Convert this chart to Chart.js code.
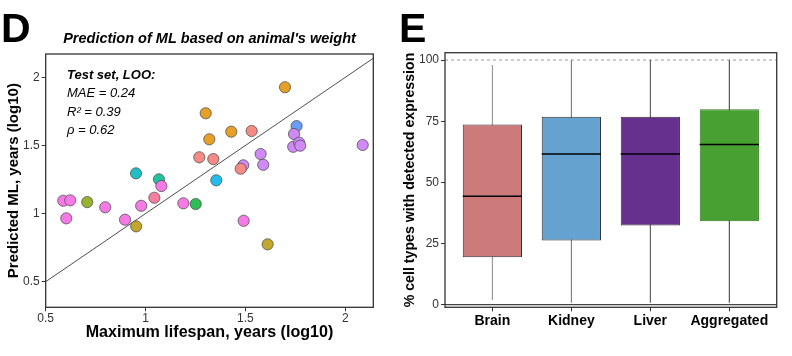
<!DOCTYPE html>
<html><head><meta charset="utf-8">
<script src="https://cdn.jsdelivr.net/npm/chart.js@4.4.0/dist/chart.umd.min.js"></script>
<style>
html,body{margin:0;padding:0;background:#fff;width:792px;height:356px;overflow:hidden;font-family:"Liberation Sans",Arial,sans-serif;}
.wrap{position:absolute;top:0;width:396px;height:356px;}
#w1{left:0}#w2{left:396px}
.lbl{position:absolute;font-weight:bold;font-size:41px;line-height:42px;color:#000;}
#ann{position:absolute;left:67px;top:66px;font-size:13px;line-height:18.3px;font-style:italic;color:#000;white-space:nowrap;}
</style></head>
<body>
<div class="wrap" id="w1"><canvas id="c1" width="396" height="356"></canvas></div>
<div class="wrap" id="w2"><canvas id="c2" width="396" height="356"></canvas></div>
<div class="lbl" style="left:1px;top:7px">D</div>
<div class="lbl" style="left:399px;top:7px">E</div>
<div id="ann"><b>Test set, LOO:</b><br>MAE = 0.24<br>R² = 0.39<br>ρ = 0.62</div>
<script>
// ---------- Panel D data ----------
const maxLifespan = [1.698,1.301,1.429,1.319,1.531,1.756,1.743,1.739,1.769,1.774,2.087,1.269,1.339,1.576,1.589,1.489,1.476,0.952,1.067,1.079,1.354,0.588,0.623,0.708,0.798,1.044,0.978,1.189,1.251,0.603,0.897,0.953,1.491,1.611];
const predictedML = [1.927,1.736,1.601,1.545,1.606,1.642,1.584,1.490,1.520,1.498,1.503,1.413,1.400,1.437,1.358,1.354,1.329,1.295,1.251,1.202,1.244,1.094,1.097,1.084,1.046,1.116,1.057,1.075,1.070,0.965,0.955,0.906,0.947,0.774];
const animalGroup = ['A','A','A','A','B','C','D','D','D','D','D','B','B','D','D','D','B','E','F','G','H','G','G','I','G','J','G','G','K','G','G','L','G','L'];
const xTicksD = [0.5,1,1.5,2];
const yTicksD = [0.5,1,1.5,2];
const xRangeD = [0.5,2.14];
const yRangeD = [0.312,2.171];

// ---------- Panel E data ----------
const categories = ['Brain','Kidney','Liver','Aggregated'];
const whiskerLow = [1.9,0.8,0.8,0.8];
const q1 = [19.4,26.2,32.4,34.1];
const median = [44.3,61.6,61.6,65.5];
const q3 = [73.7,76.8,76.8,79.9];
const whiskerHigh = [98.0,100,100,100];
const yTicksE = [0,25,50,75,100];
const refLevels = [0,100];

// ---------- styles ----------
const FAM = '"Liberation Sans", Arial, sans-serif';
const groupColors = {A:'#E69F27',B:'#F68A84',C:'#6A9DF7',D:'#CF8AF6',E:'#1FBFC6',F:'#21C29F',G:'#F57AE6',H:'#23BCEB',I:'#98B22E',J:'#F47FA2',K:'#2DBF55',L:'#C2A72D'};
const boxFill = ['#CC7A7A','#66A2CF','#66308F','#48A032'];
const boxBorder = ['#333333','#333333','#333333','#2D7A1E'];
const whiskerColor = ['#8a8a8a','#6a6a6a','#444444','#333333'];

const frame = {id:'frame', afterDraw(ch){const a=ch.chartArea,c=ch.ctx;c.save();c.strokeStyle='#333';c.lineWidth=1.3;c.strokeRect(a.left,a.top,a.right-a.left,a.bottom-a.top);c.restore();}};

new Chart(document.getElementById('c1'), {
  type:'scatter',
  data:{datasets:[
    {type:'line', data:xRangeD.map(v=>({x:v,y:v})), borderColor:'#222', borderWidth:0.8, pointRadius:0, order:2},
    {data:maxLifespan.map((x,i)=>({x, y:predictedML[i]})), backgroundColor:animalGroup.map(g=>groupColors[g]),
     borderColor:'rgba(70,70,70,0.9)', borderWidth:0.8, pointRadius:5.6, order:1}
  ]},
  options:{responsive:false, animation:false, events:[],
    layout:{autoPadding:false, padding:{left:0,right:22.7,top:0,bottom:0}},
    plugins:{legend:{display:false}, tooltip:{enabled:false},
      title:{display:true, text:"Prediction of ML based on animal's weight", fullSize:false, color:'#000',
        font:{family:FAM,size:14.5,weight:'bold',style:'italic'}, padding:{top:30.6,bottom:6.0}}},
    scales:{
      x:{type:'linear', min:xRangeD[0], max:xRangeD[1],
        afterBuildTicks:s=>{s.ticks=xTicksD.map(v=>({value:v}));}, afterFit:s=>{s.height=48.7;s.paddingLeft=0;s.paddingRight=0;},
        ticks:{font:{family:FAM,size:12}, color:'#333', padding:0, maxRotation:0, callback:v=>String(v)},
        grid:{drawOnChartArea:false, drawTicks:true, tickLength:4, color:'#333'}, border:{display:false},
        title:{display:true, text:'Maximum lifespan, years (log10)', color:'#000', font:{family:FAM,size:16.1,weight:'bold'}, padding:{top:0,bottom:14}}},
      y:{type:'linear', min:yRangeD[0], max:yRangeD[1],
        afterBuildTicks:s=>{s.ticks=yTicksD.map(v=>({value:v}));}, afterFit:s=>{s.width=45.7;},
        ticks:{font:{family:FAM,size:12}, color:'#333', padding:2, callback:v=>String(v)},
        grid:{drawOnChartArea:false, drawTicks:true, tickLength:4, color:'#333'}, border:{display:false},
        title:{display:true, text:'Predicted ML, years (log10)', color:'#000', font:{family:FAM,size:15,weight:'bold'}, padding:{top:5,bottom:0}}}
    }},
  plugins:[frame]
});

const pos = categories.map((c,i)=>i+1);
const xMinE = 0.4, xMaxE = categories.length + 0.6;
new Chart(document.getElementById('c2'), {
  type:'bar',
  data:{datasets:[
    {type:'line', data:[{x:xMinE,y:refLevels[1]},{x:xMaxE,y:refLevels[1]}], borderColor:'#9a9a9a', borderDash:[3,3], borderWidth:1, pointRadius:0, order:5},
    {type:'line', data:[{x:xMinE,y:refLevels[0]},{x:xMaxE,y:refLevels[0]}], borderColor:'#444', borderWidth:1.2, pointRadius:0, order:5},
    {type:'bar', data:pos.map((x,i)=>({x, y:[whiskerLow[i], whiskerHigh[i]]})), backgroundColor:whiskerColor, maxBarThickness:1, grouped:false, order:4},
    {type:'bar', data:pos.map((x,i)=>({x, y:[q1[i], q3[i]]})), backgroundColor:boxFill, borderColor:boxBorder, borderWidth:1, borderSkipped:false,
      barPercentage:0.75, categoryPercentage:1, grouped:false, order:3},
    {type:'scatter', data:pos.map((x,i)=>({x, y:median[i]})), pointStyle:'line', pointRadius:29.6, borderColor:'#000', borderWidth:1.5, order:1}
  ]},
  options:{responsive:false, animation:false, events:[],
    layout:{autoPadding:false, padding:{left:0,right:15.3,top:52.7,bottom:0}},
    plugins:{legend:{display:false}, tooltip:{enabled:false}},
    scales:{
      x:{type:'linear', min:xMinE, max:xMaxE, offset:false,
        afterBuildTicks:s=>{s.ticks=pos.map(v=>({value:v}));}, afterFit:s=>{s.height=48.7;s.paddingLeft=0;s.paddingRight=0;},
        ticks:{font:{family:FAM,size:14,weight:'bold'}, color:'#000', padding:1, maxRotation:0, autoSkip:false, callback:v=>categories[Math.round(v)-1]},
        grid:{offset:false, drawOnChartArea:false, drawTicks:true, tickLength:4, color:'#333'}, border:{display:false}},
      y:{type:'linear', min:-1.06, max:103,
        afterBuildTicks:s=>{s.ticks=yTicksE.map(v=>({value:v}));}, afterFit:s=>{s.width=49;s.paddingTop=0;s.paddingBottom=0;},
        ticks:{font:{family:FAM,size:12}, color:'#333', padding:2, callback:v=>String(v)},
        grid:{drawOnChartArea:false, drawTicks:true, tickLength:4, color:'#333'}, border:{display:false},
        title:{display:true, text:'% cell types with detected expression', color:'#000', font:{family:FAM,size:14.2,weight:'bold'}, padding:{top:5.4,bottom:0}}}
    }},
  plugins:[frame]
});
</script>
</body></html>
